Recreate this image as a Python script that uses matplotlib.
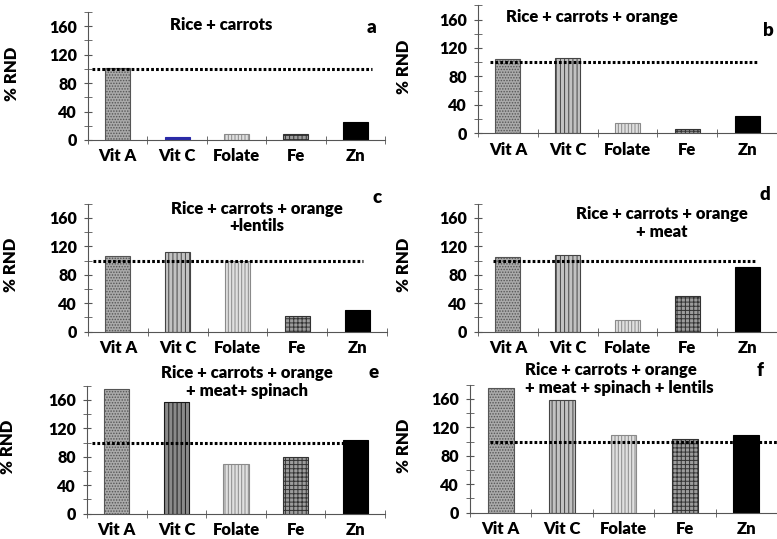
import matplotlib
matplotlib.use("Agg")
import matplotlib.pyplot as plt
from matplotlib.ticker import MultipleLocator, FixedLocator

# Datos
nutrientes = ["Vit A", "Vit C", "Folate", "Fe", "Zn"]
titulos = [
    "Rice + carrots",
    "Rice + carrots + orange",
    "Rice + carrots + orange\n+lentils",
    "Rice + carrots + orange\n+ meat",
    "Rice + carrots + orange\n+ meat+ spinach",
    "Rice + carrots + orange\n+ meat + spinach + lentils",
]
letras = ["a", "b", "c", "d", "e", "f"]
val_a = [101, 4, 9, 8, 25]
val_b = [105, 106, 15, 6, 24]
val_c = [106, 112, 100, 22, 31]
val_d = [105, 108, 17, 50, 91]
val_e = [176, 157, 70, 80, 103]
val_f = [176, 158, 109, 103, 109]
valores = [val_a, val_b, val_c, val_d, val_e, val_f]
RND = 100

plt.rcParams["font.family"] = ["Lato", "DejaVu Sans"]
plt.rcParams["hatch.linewidth"] = 0.7
PESO = "heavy"

# estilos de barra por nutriente: (relleno, hatch, borde)
estilos = [
    ("#aaaaaa", "......", "#555555"),
    ("#c2c2c2", "||||", "#444444"),
    ("#e0e0e0", "|||||", "#8a8a8a"),
    ("#9c9c9c", "++++", "#333333"),
    ("#000000", None, "#000000"),
]

# posiciones de ejes (fraccion de figura)
cajas = [
    [0.1133, 0.7403, 0.3822, 0.2375],
    [0.6152, 0.7527, 0.3848, 0.2375],
    [0.1133, 0.3846, 0.3848, 0.2375],
    [0.6152, 0.3846, 0.3848, 0.2375],
    [0.1120, 0.0469, 0.3835, 0.2375],
    [0.6049, 0.0488, 0.3951, 0.2375],
]
lineas = [(0.013, 0.956), (0.04, 0.936), (0.017, 0.92),
          (0.05, 0.926), (0.017, 0.906), (0.065, 1.01)]
pos_titulo = [(0.45, 0.90, "center"), (0.38, 0.905, "center"), (0.565, 0.89, "center"),
              (0.615, 0.85, "center"), (0.537, 1.03, "center"), (0.18, 1.045, "left")]
pos_letra = [(0.956, 0.875), (0.97, 0.80), (0.966, 1.05),
             (0.96, 1.07), (0.96, 1.10), (0.945, 1.11)]
pos_ylabel = [-0.23, -0.22, -0.23, -0.22, -0.24, -0.19]

fig = plt.figure(figsize=(7.77, 5.39), dpi=100)

for k in range(6):
    ax = fig.add_axes(cajas[k])
    x = range(len(nutrientes))
    for i, v in enumerate(valores[k]):
        fc, h, ec = estilos[i]
        if k == 0 and i == 1:
            fc, h, ec = "#2a2aa8", None, "#2a2aa8"
        if k == 4 and i == 1:
            fc, ec = "#8a8a8a", "#1a1a1a"
        ax.bar(i, v, width=0.42, color=fc, hatch=h, edgecolor=ec, linewidth=0.8)

    xmin, xmax = lineas[k]
    ax.axhline(RND, xmin=xmin, xmax=xmax, color="black", lw=2.2,
               linestyle=(0, (0.9, 0.7)), clip_on=False, zorder=5)

    ax.set_xlim(-0.5, 4.5)
    ax.set_ylim(0, 180)
    ax.set_xticks(list(x))
    ax.set_xticklabels(nutrientes, fontsize=12, fontweight=PESO)
    ax.xaxis.set_minor_locator(FixedLocator([-0.5, 0.5, 1.5, 2.5, 3.5, 4.5]))
    ax.yaxis.set_minor_locator(MultipleLocator(20))
    ax.set_yticks([0, 40, 80, 120, 160])
    ax.tick_params(axis="x", which="major", length=0, pad=6)
    ax.tick_params(axis="x", which="minor", direction="inout", length=6, color="#555555")
    ax.tick_params(axis="y", which="both", direction="inout", length=6, color="#555555", pad=5,
                   labelsize=11.5)
    for lab in ax.get_yticklabels():
        lab.set_fontweight(PESO)
    for s in ["top", "right"]:
        ax.spines[s].set_visible(False)
    for s in ["left", "bottom"]:
        ax.spines[s].set_color("#555555")
    ax.set_ylabel("% RND", fontsize=12, fontweight=PESO)
    ax.yaxis.set_label_coords(pos_ylabel[k], 0.52)

    tx, ty, ha = pos_titulo[k]
    ax.text(tx, ty, titulos[k], transform=ax.transAxes, ha=ha, va="center",
            fontsize=12, fontweight=PESO, linespacing=1.1, multialignment=ha)
    lx, ly = pos_letra[k]
    ax.text(lx, ly, letras[k], transform=ax.transAxes, ha="center", va="center",
            fontsize=13.5, fontweight=PESO)

fig.savefig("out.png", dpi=100, facecolor="white")
